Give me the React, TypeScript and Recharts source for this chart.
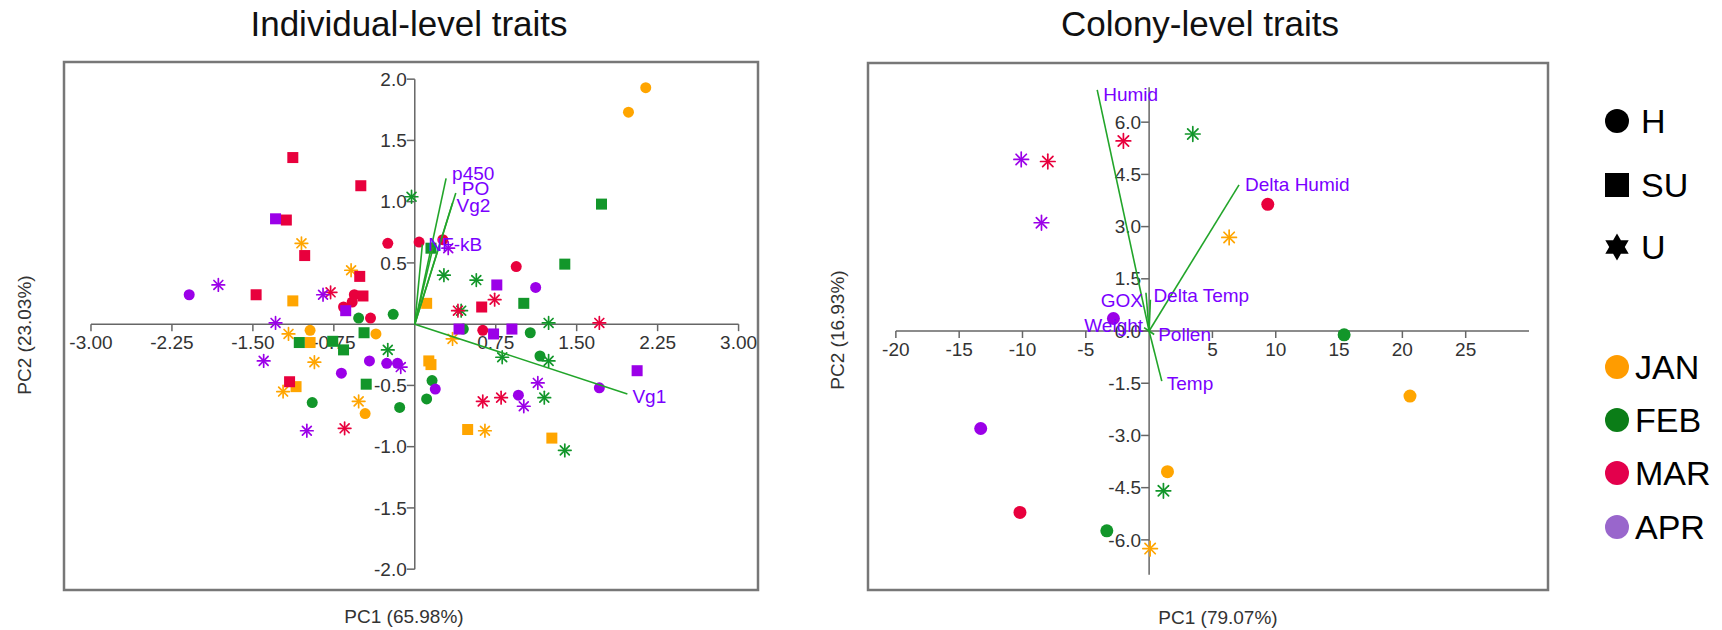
import React from 'react';
import { ScatterChart, Scatter, XAxis, YAxis, ReferenceLine, ReferenceArea } from 'recharts';

const FONT = '"Liberation Sans", Arial, sans-serif';

const MONTHS = ['JAN', 'FEB', 'MAR', 'APR'];
const TYPES = ['H', 'SU', 'U'];
const pointColor: Record<string, string> = { JAN: '#ffa500', FEB: '#12962a', MAR: '#e8003d', APR: '#9b00e8' };
const legendColor: Record<string, string> = { JAN: '#ff9c00', FEB: '#0b7d17', MAR: '#e3004c', APR: '#9966cc' };
const LOAD_COLOR = '#22a52a';
const LABEL_COLOR = '#7a00ff';

// ---------- Individual-level traits: [PC1, PC2, type] ----------
const indJAN: [number, number, string][] = [
  [2.14, 1.93, 'H'], [1.98, 1.73, 'H'], [-0.97, -0.05, 'H'], [-0.36, -0.08, 'H'], [-0.46, -0.73, 'H'],
  [-1.13, 0.19, 'SU'], [0.11, 0.17, 'SU'], [-0.97, -0.15, 'SU'], [-1.10, -0.51, 'SU'], [0.13, -0.30, 'SU'],
  [0.15, -0.33, 'SU'], [0.49, -0.86, 'SU'], [1.27, -0.93, 'SU'],
  [-1.05, 0.66, 'U'], [-0.59, 0.44, 'U'], [-1.17, -0.08, 'U'], [-0.93, -0.31, 'U'], [-1.22, -0.55, 'U'],
  [-0.52, -0.63, 'U'], [0.35, -0.12, 'U'], [0.65, -0.87, 'U'],
];
const indFEB: [number, number, string][] = [
  [-0.52, 0.05, 'H'], [-0.20, 0.08, 'H'], [0.45, -0.04, 'H'], [1.07, -0.07, 'H'], [1.16, -0.26, 'H'],
  [0.16, -0.46, 'H'], [0.11, -0.61, 'H'], [-0.95, -0.64, 'H'], [-0.14, -0.68, 'H'],
  [0.15, 0.62, 'SU'], [1.73, 0.98, 'SU'], [1.39, 0.49, 'SU'], [1.01, 0.17, 'SU'], [-1.07, -0.15, 'SU'],
  [-0.76, -0.14, 'SU'], [-0.66, -0.21, 'SU'], [-0.47, -0.07, 'SU'], [-0.45, -0.49, 'SU'],
  [-0.03, 1.04, 'U'], [0.27, 0.40, 'U'], [0.57, 0.36, 'U'], [0.43, 0.11, 'U'], [1.24, 0.01, 'U'],
  [0.81, -0.27, 'U'], [1.24, -0.30, 'U'], [-0.25, -0.21, 'U'], [1.20, -0.60, 'U'], [1.39, -1.03, 'U'],
];
const indMAR: [number, number, string][] = [
  [-0.25, 0.66, 'H'], [0.04, 0.67, 'H'], [0.26, 0.69, 'H'], [-0.56, 0.24, 'H'], [-0.58, 0.18, 'H'],
  [-0.66, 0.14, 'H'], [-0.41, 0.05, 'H'], [0.94, 0.47, 'H'], [0.63, -0.05, 'H'],
  [-1.13, 1.36, 'SU'], [-1.19, 0.85, 'SU'], [-1.02, 0.56, 'SU'], [-0.50, 1.13, 'SU'], [-1.47, 0.24, 'SU'],
  [-0.51, 0.39, 'SU'], [-0.48, 0.23, 'SU'], [0.62, 0.14, 'SU'], [-1.16, -0.47, 'SU'],
  [-0.78, 0.26, 'U'], [0.74, 0.20, 'U'], [0.40, 0.11, 'U'], [1.71, 0.01, 'U'], [0.63, -0.63, 'U'],
  [0.80, -0.60, 'U'], [-0.65, -0.85, 'U'],
];
const indAPR: [number, number, string][] = [
  [-2.09, 0.24, 'H'], [1.12, 0.30, 'H'], [-0.42, -0.30, 'H'], [-0.26, -0.32, 'H'], [-0.16, -0.32, 'H'],
  [-0.68, -0.40, 'H'], [0.19, -0.53, 'H'], [0.96, -0.58, 'H'], [1.71, -0.52, 'H'],
  [-1.29, 0.86, 'SU'], [-0.64, 0.11, 'SU'], [0.76, 0.32, 'SU'], [0.41, -0.04, 'SU'], [0.73, -0.08, 'SU'],
  [0.90, -0.04, 'SU'], [2.06, -0.38, 'SU'],
  [-1.82, 0.32, 'U'], [-0.85, 0.24, 'U'], [-1.29, 0.01, 'U'], [0.31, 0.62, 'U'], [-1.40, -0.30, 'U'],
  [-0.13, -0.35, 'U'], [-1.00, -0.87, 'U'], [1.14, -0.48, 'U'], [1.01, -0.67, 'U'],
];

// ---------- Colony-level traits ----------
const colJAN: [number, number, string][] = [[1.45, -4.04, 'H'], [20.6, -1.87, 'H'], [6.32, 2.69, 'U'], [0.08, -6.25, 'U']];
const colFEB: [number, number, string][] = [[15.4, -0.11, 'H'], [-3.34, -5.74, 'H'], [3.45, 5.66, 'U'], [1.13, -4.59, 'U']];
const colMAR: [number, number, string][] = [[9.37, 3.64, 'H'], [-10.2, -5.21, 'H'], [-8.0, 4.87, 'U'], [-2.03, 5.46, 'U']];
const colAPR: [number, number, string][] = [[-2.82, 0.36, 'H'], [-13.3, -2.80, 'H'], [-10.1, 4.93, 'U'], [-8.5, 3.11, 'U']];

// ---------- Loadings ----------
const indLoadNames = ['p450', 'PO', 'Vg2', 'NF-kB', 'Vg1', ''];
const indLoadPC1 = [0.29, 0.38, 0.35, 0.07, 1.97, 0.17];
const indLoadPC2 = [1.19, 1.07, 0.99, 0.65, -0.57, 0.63];
const colLoadNames = ['Humid', 'Delta Humid', 'Delta Temp', 'GOX', 'Weight', 'Pollen', 'Temp'];
const colLoadPC1 = [-4.1, 7.1, 0.1, -0.25, -0.4, 0.4, 1.0];
const colLoadPC2 = [6.93, 4.2, 0.9, 1.1, 0.1, -0.1, -1.44];

// label placement (style), keyed by name: [dx, dy, anchor]
const labelPlace: Record<string, [number, number, string]> = {
  p450: [6, -5, 'start'], PO: [6, -5, 'start'], Vg2: [4, 2, 'start'], 'NF-kB': [6, 0, 'start'], Vg1: [5, 2, 'start'],
  Humid: [6, 5, 'start'], 'Delta Humid': [6, 0, 'start'], 'Delta Temp': [3, -4, 'start'], GOX: [-3, 8, 'end'],
  Weight: [-1, -2, 'end'], Pollen: [4, 0, 'start'], Temp: [5, 2, 'start'],
};

// ---------- Tick labels ----------
const indXTicks = [-3, -2.25, -1.5, -0.75, 0.75, 1.5, 2.25, 3];
const indYTicks = [2, 1.5, 1, 0.5, -0.5, -1, -1.5, -2];
const colXTicks = [-20, -15, -10, -5, 5, 10, 15, 20, 25];
const colYTicks = [6, 4.5, 3, 1.5, 0, -1.5, -3, -4.5, -6];

const toRows = (arr: [number, number, string][], type: string) =>
  arr.filter((d) => d[2] === type).map((d) => ({ x: d[0], y: d[1] }));

const Asterisk = (cx: number, cy: number, color: string, r: number) => (
  <g stroke={color} strokeWidth={1.7} strokeLinecap="round">
    {[0, 45, 90, 135].map((a) => {
      const dx = r * Math.cos((a * Math.PI) / 180);
      const dy = r * Math.sin((a * Math.PI) / 180);
      return <line key={a} x1={cx - dx} y1={cy - dy} x2={cx + dx} y2={cy + dy} />;
    })}
  </g>
);

const makeShape = (type: string, color: string, size: number) => (p: any) => {
  const { cx, cy } = p;
  if (cx == null || cy == null) return <g />;
  if (type === 'H') return <circle cx={cx} cy={cy} r={size} fill={color} />;
  if (type === 'SU') return <rect x={cx - size} y={cy - size} width={size * 2} height={size * 2} fill={color} />;
  return Asterisk(cx, cy, color, size + 0.8);
};

const emptyShape = () => <g />;

const xTickShape = (fmt: (v: number) => string, dir: number) => (p: any) => (
  <g>
    <line x1={p.cx} y1={p.cy} x2={p.cx} y2={p.cy + (dir * (p.payload.x < 0 ? 1 : 1)) * 7} stroke="#666" strokeWidth={1.5} />
    <text x={p.cx} y={p.cy + 18} textAnchor="middle" dy="0.35em" fontSize={19} fill="#333" fontFamily={FONT}>
      {fmt(p.payload.x)}
    </text>
  </g>
);
const yTickShape = (fmt: (v: number) => string) => (p: any) => (
  <g>
    <line x1={p.cx - 8} y1={p.cy} x2={p.cx} y2={p.cy} stroke="#666" strokeWidth={1.5} />
    <text x={p.cx - 8} y={p.cy} textAnchor="end" dy="0.35em" fontSize={19} fill="#333" fontFamily={FONT}>
      {fmt(p.payload.y)}
    </text>
  </g>
);
const loadLabelShape = (p: any) => {
  const name = p.payload.name;
  if (!name) return <g />;
  const [dx, dy, anchor] = labelPlace[name] || [5, 0, 'start'];
  return (
    <text x={p.cx + dx} y={p.cy + dy} dy="0.35em" textAnchor={anchor as any} fontSize={19} fill={LABEL_COLOR} fontFamily={FONT}>
      {name}
    </text>
  );
};

type PanelProps = {
  width: number; height: number; margin: any; xDomain: [number, number]; yDomain: [number, number];
  xLine: [number, number]; yLine: [number, number];
  xTicks: number[]; yTicks: number[]; xFmt: (v: number) => string; yFmt: (v: number) => string;
  groups: [number, number, string][][]; pointSize: number;
  loadNames: string[]; loadX: number[]; loadY: number[];
};

const Panel = (pp: PanelProps) => (
  <ScatterChart width={pp.width} height={pp.height} margin={pp.margin}>
    <XAxis type="number" dataKey="x" domain={pp.xDomain} hide />
    <YAxis type="number" dataKey="y" domain={pp.yDomain} hide />
    <ReferenceArea x1={pp.xDomain[0]} x2={pp.xDomain[1]} y1={pp.yDomain[0]} y2={pp.yDomain[1]} fill="none" fillOpacity={0} stroke="#777" strokeWidth={2.5} />
    <ReferenceLine segment={[{ x: pp.xLine[0], y: 0 }, { x: pp.xLine[1], y: 0 }]} stroke="#666" strokeWidth={1.5} />
    <ReferenceLine segment={[{ x: 0, y: pp.yLine[0] }, { x: 0, y: pp.yLine[1] }]} stroke="#666" strokeWidth={1.5} />
    <Scatter data={pp.xTicks.map((t) => ({ x: t, y: 0 }))} shape={xTickShape(pp.xFmt, 1)} isAnimationActive={false} />
    <Scatter data={pp.yTicks.map((t) => ({ x: 0, y: t }))} shape={yTickShape(pp.yFmt)} isAnimationActive={false} />
    {MONTHS.map((m, mi) =>
      TYPES.map((t) => (
        <Scatter
          key={m + t}
          data={toRows(pp.groups[mi], t)}
          shape={makeShape(t, pointColor[m], pp.pointSize)}
          isAnimationActive={false}
        />
      ))
    )}
    {pp.loadNames.map((n, i) => (
      <Scatter
        key={'l' + i}
        data={[{ x: 0, y: 0 }, { x: pp.loadX[i], y: pp.loadY[i] }]}
        line={{ stroke: LOAD_COLOR, strokeWidth: 1.6 }}
        lineType="joint"
        shape={emptyShape}
        isAnimationActive={false}
      />
    ))}
    <Scatter
      data={pp.loadNames.map((n, i) => ({ x: pp.loadX[i], y: pp.loadY[i], name: n }))}
      shape={loadLabelShape}
      isAnimationActive={false}
    />
  </ScatterChart>
);

const legendShapes = ['H', 'SU', 'U'];
const legendShapeY = [121, 185, 247];
const legendMonthY = [367, 420, 473, 527];

const hexagram = (cx: number, cy: number, R: number, r: number) => {
  const pts: string[] = [];
  for (let i = 0; i < 12; i++) {
    const a = (Math.PI / 6) * i - Math.PI / 2;
    const rad = i % 2 === 0 ? R : r;
    pts.push(`${cx + rad * Math.cos(a)},${cy + rad * Math.sin(a)}`);
  }
  return <polygon points={pts.join(' ')} fill="#000" />;
};

export default function App() {
  return (
    <div style={{ position: 'absolute', left: 0, top: 0, width: 1722, height: 630, background: '#fff', fontFamily: FONT }}>
      <div style={{ position: 'absolute', left: 0, top: 0 }}>
        <Panel
          width={780} height={630} margin={{ top: 62, left: 64, right: 22, bottom: 40 }}
          xDomain={[-3.25, 3.18]} yDomain={[-2.17, 2.14]} xLine={[-3, 3]} yLine={[-2, 2]}
          xTicks={indXTicks} yTicks={indYTicks} xFmt={(v) => v.toFixed(2)} yFmt={(v) => v.toFixed(1)}
          groups={[indJAN, indFEB, indMAR, indAPR]} pointSize={5.5}
          loadNames={indLoadNames} loadX={indLoadPC1} loadY={indLoadPC2}
        />
      </div>
      <div style={{ position: 'absolute', left: 800, top: 0 }}>
        <Panel
          width={770} height={630} margin={{ top: 63, left: 68, right: 22, bottom: 40 }}
          xDomain={[-22.2, 31.5]} yDomain={[-7.44, 7.7]} xLine={[-20, 30]} yLine={[-7, 7]}
          xTicks={colXTicks} yTicks={colYTicks} xFmt={(v) => String(v)} yFmt={(v) => v.toFixed(1)}
          groups={[colJAN, colFEB, colMAR, colAPR]} pointSize={6.5}
          loadNames={colLoadNames} loadX={colLoadPC1} loadY={colLoadPC2}
        />
      </div>
      <svg width={1722} height={630} style={{ position: 'absolute', left: 0, top: 0, pointerEvents: 'none' }}>
        <text x={409} y={24} dy="0.35em" textAnchor="middle" fontSize={35} fill="#111" fontFamily={FONT}>Individual-level traits</text>
        <text x={1200} y={24} dy="0.35em" textAnchor="middle" fontSize={35} fill="#111" fontFamily={FONT}>Colony-level traits</text>
        <text x={404} y={616} dy="0.35em" textAnchor="middle" fontSize={19} fill="#333" fontFamily={FONT}>PC1 (65.98%)</text>
        <text x={1218} y={617} dy="0.35em" textAnchor="middle" fontSize={19} fill="#333" fontFamily={FONT}>PC1 (79.07%)</text>
        <text x={24} y={335} dy="0.35em" textAnchor="middle" fontSize={19} fill="#333" fontFamily={FONT} transform="rotate(-90 24 335)">PC2 (23.03%)</text>
        <text x={837} y={330} dy="0.35em" textAnchor="middle" fontSize={19} fill="#333" fontFamily={FONT} transform="rotate(-90 837 330)">PC2 (16.93%)</text>
        {legendShapes.map((s, i) => (
          <g key={s}>
            {s === 'H' && <circle cx={1617} cy={legendShapeY[i]} r={12} fill="#000" />}
            {s === 'SU' && <rect x={1605} y={legendShapeY[i] - 12} width={24} height={24} fill="#000" />}
            {s === 'U' && hexagram(1617, legendShapeY[i], 13.5, 7.8)}
            <text x={1641} y={legendShapeY[i]} dy="0.35em" fontSize={34} fill="#000" fontFamily={FONT}>{s}</text>
          </g>
        ))}
        {MONTHS.map((m, i) => (
          <g key={m}>
            <circle cx={1617} cy={legendMonthY[i]} r={12} fill={legendColor[m]} />
            <text x={1635} y={legendMonthY[i]} dy="0.35em" fontSize={34} fill="#000" fontFamily={FONT}>{m}</text>
          </g>
        ))}
      </svg>
    </div>
  );
}
